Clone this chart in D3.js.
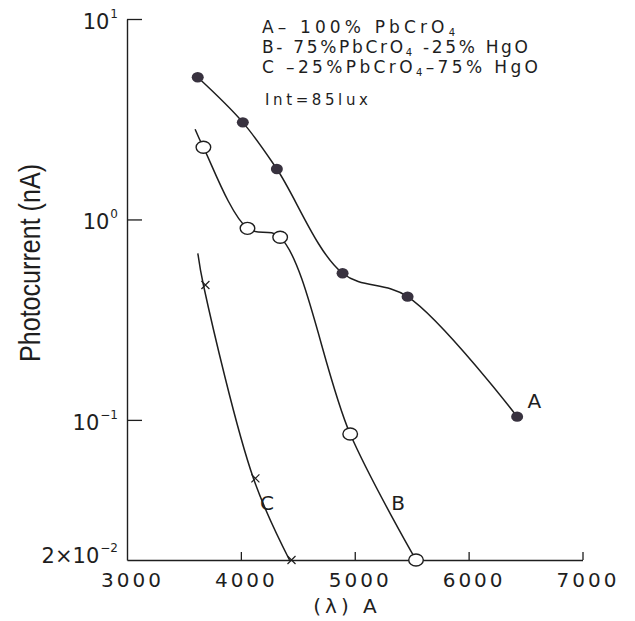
<!DOCTYPE html>
<html><head><meta charset="utf-8">
<script src="https://cdn.jsdelivr.net/npm/d3@7"></script>
<style>body{margin:0;background:#fff}</style>
</head><body>
<svg id="chart" width="635" height="621"></svg>
<script>
// ---- data ----
const xTicks = [3000, 4000, 5000, 6000, 7000];
const yTicks = [0.1, 1, 10];
const yTickLabels = [["2×10", "−2"], ["10", "−1"], ["10", "0"], ["10", "1"]];
const yLabelValues = [0.02, 0.1, 1, 10];

const wavelengthA = [3621, 4017, 4316, 4893, 5464, 6426];
const currentA    = [5.12, 3.05, 1.785, 0.539, 0.412, 0.1038];
const wavelengthB = [3671, 4058, 4345, 4960, 5538];
const currentB    = [2.29, 0.903, 0.815, 0.085, 0.02];
const wavelengthC = [3671, 4110, 4427];
const currentC    = [0.471, 0.0511, 0.02];
// curves B and C start a little above their first measured point
const curveStartB = [3598, 2.82];
const curveStartC = [3622, 0.678];

const seriesNames = ["A", "B", "C"];
const seriesLabelX = [6516, 5321, 4169];
const seriesLabelY = [0.1147, 0.0355, 0.0355];

const legendLines = [
  ["A– 100% PbCrO", "4", ""],
  ["B- 75%PbCrO", "4", " -25% HgO"],
  ["C –25%PbCrO", "4", "–75% HgO"]
];
const intensityText = "Int=85lux";
const xTitle = "(λ) A";
const yTitle = "Photocurrent (nA)";

// ---- drawing ----
const svg = d3.select("#chart");
const ink = "#1e1e1e";
const x = d3.scaleLinear().domain([3000, 7000]).range([127, 582.5]);
const y = d3.scaleLog().domain([0.02, 10]).range([560, 19]);

// x axis
const gx = svg.append("g").attr("transform", `translate(0,${y(0.02)})`)
  .call(d3.axisBottom(x).tickValues(xTicks).tickSize(-8).tickSizeOuter(0).tickFormat(d3.format("d")));
gx.select(".domain").attr("stroke", ink).attr("stroke-width", 1.4);
gx.selectAll(".tick line").attr("stroke", ink).attr("stroke-width", 1.3)
  .attr("display", d => d === 3000 ? "none" : null);
gx.selectAll(".tick text").attr("y", 27).attr("dy", 0).attr("dx", 5)
  .attr("fill", ink).style("font-family", "DejaVu Sans").style("font-size", "20px")
  .style("letter-spacing", "3px");

// y axis
const gy = svg.append("g").attr("transform", `translate(${x(3000)},0)`)
  .call(d3.axisRight(y).tickValues(yTicks).tickSize(15).tickSizeOuter(0).tickFormat(""));
gy.select(".domain").attr("stroke", ink).attr("stroke-width", 1.4);
gy.selectAll(".tick line").attr("stroke", ink).attr("stroke-width", 1.3);

// y tick labels
yLabelValues.forEach((v, i) => {
  const t = svg.append("text")
    .attr("x", x(3000) - 9)
    .attr("y", y(v) + (i === 0 ? 3 : 10))
    .attr("text-anchor", "end")
    .attr("fill", ink)
    .style("font-family", "DejaVu Sans").style("font-size", "21px");
  t.append("tspan").text(yTickLabels[i][0]);
  t.append("tspan").attr("dy", -11).attr("dx", 1)
    .style("font-size", "12px").text(yTickLabels[i][1]);
});

// axis titles
svg.append("text").attr("x", 347).attr("y", 613).attr("text-anchor", "middle")
  .attr("fill", ink).style("font-family", "DejaVu Sans").style("font-size", "20px")
  .style("letter-spacing", "4px").text(xTitle);
svg.append("text").attr("transform", "translate(40,263) rotate(-90)")
  .attr("text-anchor", "middle").attr("fill", ink)
  .attr("textLength", 198).attr("lengthAdjust", "spacingAndGlyphs")
  .style("font-family", "Liberation Sans").style("font-size", "29px").text(yTitle);

// curves
const line = d3.line().x(d => x(d[0])).y(d => y(d[1])).curve(d3.curveCatmullRom.alpha(0.5));
const ptsA = wavelengthA.map((w, i) => [w, currentA[i]]);
const ptsB = wavelengthB.map((w, i) => [w, currentB[i]]);
const ptsC = wavelengthC.map((w, i) => [w, currentC[i]]);
[ptsA, [curveStartB].concat(ptsB), [curveStartC].concat(ptsC)].forEach(p => {
  svg.append("path").attr("d", line(p)).attr("fill", "none")
    .attr("stroke", ink).attr("stroke-width", 1.5);
});

// markers
svg.selectAll(".mA").data(ptsA).enter().append("ellipse")
  .attr("cx", d => x(d[0])).attr("cy", d => y(d[1]))
  .attr("rx", 6).attr("ry", 5.2).attr("fill", "#38323f");
svg.selectAll(".mB").data(ptsB).enter().append("ellipse")
  .attr("cx", d => x(d[0])).attr("cy", d => y(d[1]))
  .attr("rx", 7.3).attr("ry", 6).attr("fill", "#fff").attr("stroke", ink).attr("stroke-width", 1.4);
svg.selectAll(".mC").data(ptsC).enter().append("path")
  .attr("d", d => {
    const cx = x(d[0]) + 2, cy = y(d[1]);
    return `M${cx-4},${cy-4}L${cx+4},${cy+4}M${cx-4},${cy+4}L${cx+4},${cy-4}`;
  })
  .attr("stroke", ink).attr("stroke-width", 1.2).attr("fill", "none");

// series labels
seriesNames.forEach((n, i) => {
  svg.append("text").attr("x", x(seriesLabelX[i])).attr("y", y(seriesLabelY[i]))
    .attr("fill", ink).style("font-family", "DejaVu Sans").style("font-size", "20px").text(n);
});

// legend
const legendTargets = [193, 266, 276];
legendLines.forEach((parts, i) => {
  const t = svg.append("text").attr("x", 262).attr("y", 33 + 20 * i)
    .attr("fill", ink).style("font-family", "DejaVu Sans").style("font-size", "17px");
  t.append("tspan").text(parts[0]);
  t.append("tspan").attr("dy", 3).style("font-size", "10px").text(parts[1]);
  if (parts[2]) t.append("tspan").attr("dy", -3).text(parts[2]);
  const w = t.node().getBBox().width;
  const n = (parts[0] + parts[1] + parts[2]).length;
  t.style("letter-spacing", ((legendTargets[i] - w) / (n - 1)) + "px");
});
const it = svg.append("text").attr("x", 265).attr("y", 105)
  .attr("fill", ink).style("font-family", "DejaVu Sans").style("font-size", "15px").text(intensityText);
const iw = it.node().getBBox().width;
it.style("letter-spacing", ((103 - iw) / (intensityText.length - 1)) + "px");
</script>
</body></html>
